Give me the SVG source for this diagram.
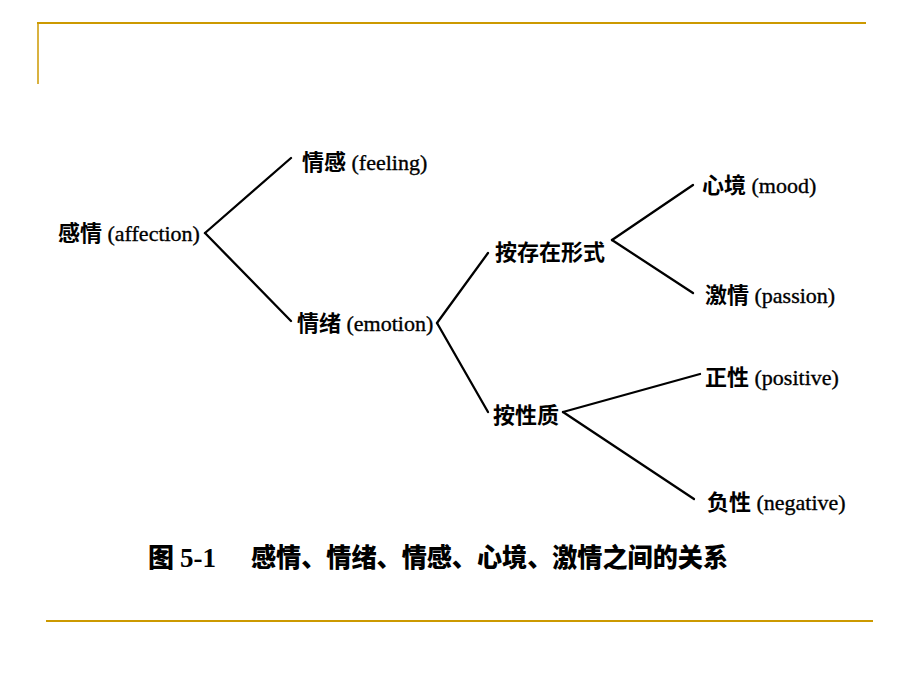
<svg xmlns="http://www.w3.org/2000/svg" width="920" height="690" viewBox="0 0 920 690">
<style>
.frame{stroke:#CC9900;fill:none}
.edge{stroke:#000;stroke-width:2.3;fill:none;stroke-linecap:round}
.lbl{font-family:"Liberation Serif","Noto Sans CJK SC",serif;font-size:22px;fill:#000}
.cjk{font-family:"Noto Sans CJK SC",sans-serif;font-weight:700}
.lat{stroke:#000;stroke-width:0.35}
.cap{font-family:"Noto Sans CJK SC",sans-serif;font-size:26px;font-weight:900;fill:#000}
.capn{font-family:"Liberation Serif",serif;font-weight:700;font-size:27px;fill:#000}
</style>
<rect width="920" height="690" fill="#fff"/>
<g id="frame">
<line class="frame" x1="37" y1="23" x2="866" y2="23" stroke-width="2.2"/>
<line class="frame" x1="38" y1="23" x2="38" y2="84" stroke-width="1.5"/>
<line class="frame" x1="46" y1="621" x2="873" y2="621" stroke-width="2"/>
</g>
<g id="connectors">
<line class="edge" x1="205" y1="233" x2="291" y2="158"/>
<line class="edge" x1="205" y1="233" x2="291" y2="321"/>
<line class="edge" x1="437" y1="323" x2="488" y2="253"/>
<line class="edge" x1="437" y1="323" x2="488" y2="412"/>
<line class="edge" x1="612" y1="240" x2="693" y2="185"/>
<line class="edge" x1="612" y1="240" x2="693" y2="293"/>
<line class="edge" x1="563" y1="412" x2="700" y2="374"/>
<line class="edge" x1="563" y1="412" x2="694" y2="499"/>
</g>
<g id="n_affection"><text class="lbl" x="58" y="241"><tspan class="cjk">感情</tspan><tspan class="lat"> (affection)</tspan></text></g>
<g id="n_feeling"><text class="lbl" x="302" y="170"><tspan class="cjk">情感</tspan><tspan class="lat"> (feeling)</tspan></text></g>
<g id="n_emotion"><text class="lbl" x="297" y="331"><tspan class="cjk">情绪</tspan><tspan class="lat"> (emotion)</tspan></text></g>
<g id="n_form"><text class="lbl" x="495" y="260"><tspan class="cjk">按存在形式</tspan></text></g>
<g id="n_nature"><text class="lbl" x="493" y="423"><tspan class="cjk">按性质</tspan></text></g>
<g id="n_mood"><text class="lbl" x="702" y="193"><tspan class="cjk">心境</tspan><tspan class="lat"> (mood)</tspan></text></g>
<g id="n_passion"><text class="lbl" x="705" y="303"><tspan class="cjk">激情</tspan><tspan class="lat"> (passion)</tspan></text></g>
<g id="n_positive"><text class="lbl" x="705" y="385"><tspan class="cjk">正性</tspan><tspan class="lat"> (positive)</tspan></text></g>
<g id="n_negative"><text class="lbl" x="707" y="510"><tspan class="cjk">负性</tspan><tspan class="lat"> (negative)</tspan></text></g>
<g id="caption">
<text class="cap" x="148" y="567">图</text>
<text class="capn" x="180" y="567">5-1</text>
<text class="cap" x="251" y="567" textLength="477" lengthAdjust="spacingAndGlyphs">感情、情绪、情感、心境、激情之间的关系</text>
</g>
</svg>
